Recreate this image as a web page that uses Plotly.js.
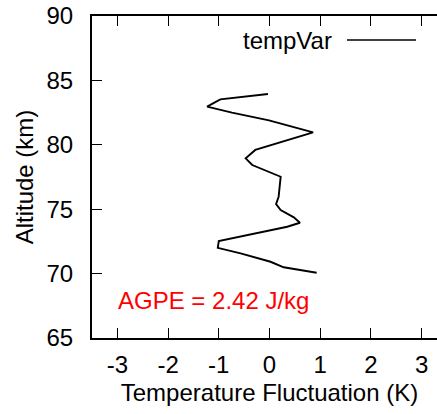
<!DOCTYPE html>
<html>
<head>
<meta charset="utf-8">
<script src="https://cdn.plot.ly/plotly-3.0.1.min.js"></script>
<style>
html,body{margin:0;padding:0;overflow:hidden;background:#fff;}
#chart{width:447px;height:414px;}
</style>
</head>
<body>
<div id="chart"></div>
<script>
const seriesName = "tempVar";
const tempFluct = [-0.03, -0.97, -1.23, -0.74, -0.01, 0.86, -0.28, -0.47, -0.34, 0.22, 0.18, 0.13, 0.22, 0.48, 0.60, 0.35, -1.00, -1.02, -0.57, 0.02, 0.28, 0.93];
const altitude  = [83.94, 83.53, 82.96, 82.50, 81.90, 80.97, 79.60, 78.95, 78.43, 77.52, 75.97, 75.40, 74.94, 74.37, 73.95, 73.64, 72.53, 72.00, 71.57, 70.92, 70.49, 70.07];
const xTicks = [-3, -2, -1, 0, 1, 2, 3];
const yTicks = [65, 70, 75, 80, 85, 90];
const agpeLabel = "AGPE = 2.42 J/kg";

const font = {family: '"Liberation Sans", Arial, sans-serif', color: '#000'};

const trace = {
  x: tempFluct, y: altitude, type: 'scatter', mode: 'lines',
  name: seriesName, line: {color: '#000', width: 1.9}, showlegend: false
};

const axisCommon = {
  showline: true, linewidth: 2, linecolor: '#000', mirror: 'ticks',
  ticks: 'inside', ticklen: 10, tickwidth: 1, tickcolor: '#000',
  showgrid: false, zeroline: false,
  tickfont: Object.assign({size: 24}, font)
};

const layout = {
  width: 447, height: 414,
  margin: {l: 92, r: 0, t: 16, b: 76},
  paper_bgcolor: '#fff', plot_bgcolor: '#fff',
  font: font,
  xaxis: Object.assign({}, axisCommon, {
    range: [-3.5, 3.5], tickvals: xTicks, ticktext: xTicks.map(String),
    ticklabelstandoff: 4,
    title: {text: 'Temperature Fluctuation (K)', font: Object.assign({size: 24}, font), standoff: 7}
  }),
  yaxis: Object.assign({}, axisCommon, {
    range: [65, 90], tickvals: yTicks, ticktext: yTicks.map(String),
    ticklabelstandoff: 12,
    title: {text: 'Altitude (km)', font: Object.assign({size: 24}, font), standoff: 6}
  }),
  annotations: [
    {xref: 'paper', yref: 'paper', x: (116 - 92) / 355, y: (338 - 300) / 322, xanchor: 'left', yanchor: 'middle',
     text: agpeLabel, showarrow: false, font: {family: font.family, size: 24, color: '#ff0000'}},
    {xref: 'paper', yref: 'paper', x: (334 - 92) / 355, y: (338 - 40) / 322, xanchor: 'right', yanchor: 'middle',
     text: seriesName, showarrow: false, font: Object.assign({size: 24}, font)}
  ],
  shapes: [
    {type: 'line', xref: 'paper', yref: 'paper',
     x0: (347 - 92) / 355, x1: (416 - 92) / 355, y0: (338 - 40) / 322, y1: (338 - 40) / 322,
     line: {color: '#000', width: 1.6}}
  ]
};

Plotly.newPlot('chart', [trace], layout, {displayModeBar: false, staticPlot: true});
</script>
</body>
</html>
